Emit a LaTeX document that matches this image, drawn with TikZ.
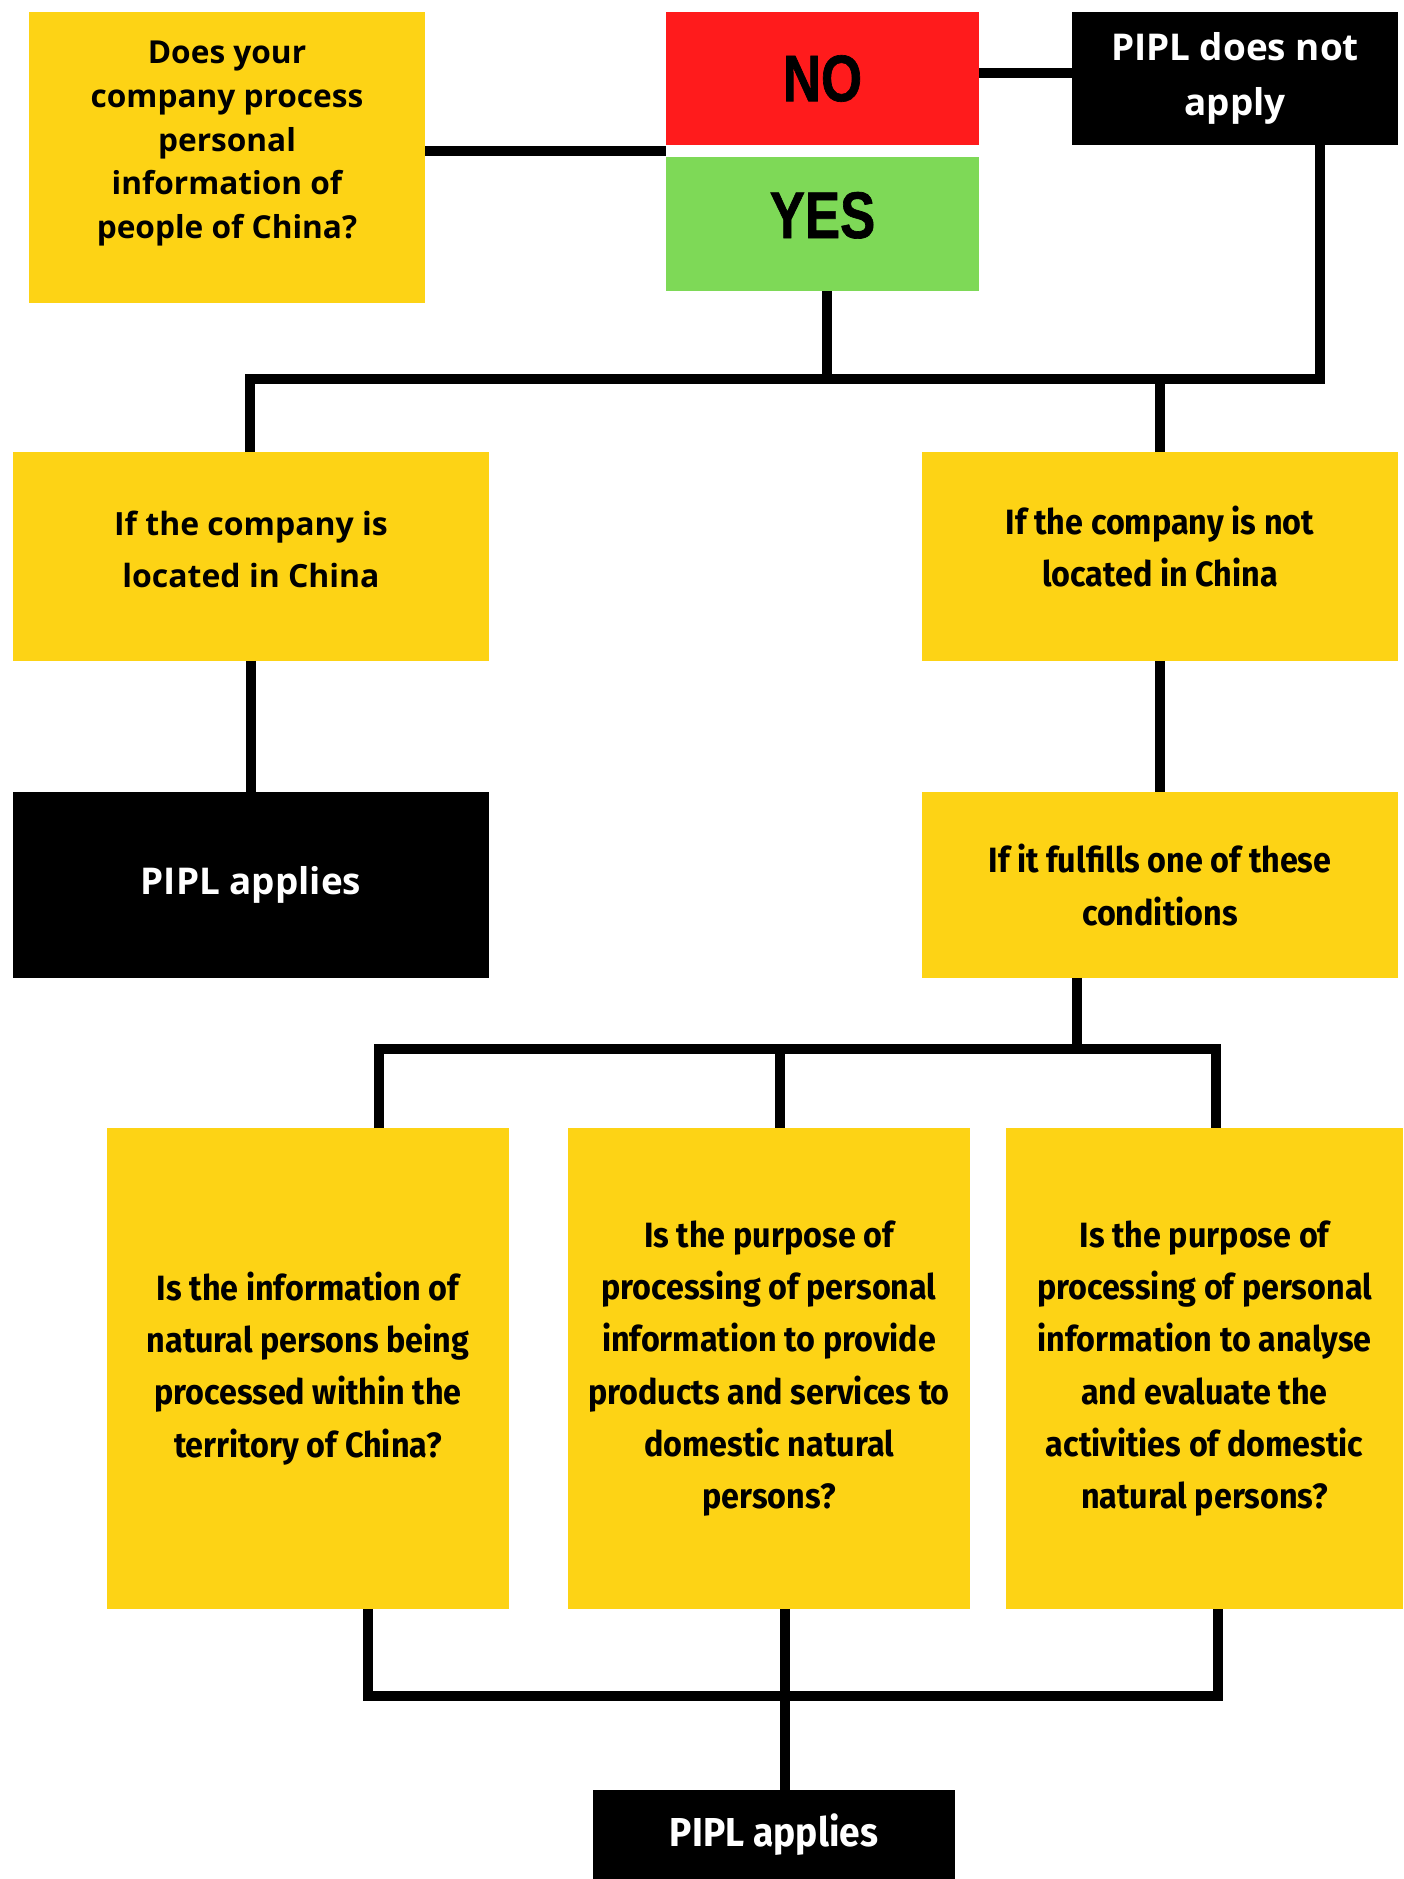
\documentclass[tikz,border=0pt]{standalone}
\usepackage{fontspec}
\setmainfont{Open Sans}
\newfontfamily\condfont[FakeStretch=0.92]{Fira Sans}
\newfontfamily\headfont[FakeStretch=0.8,FakeBold=1]{Liberation Sans}
\definecolor{pyellow}{HTML}{FDD315}
\definecolor{pred}{HTML}{FF1B1C}
\definecolor{pgreen}{HTML}{7ED957}

\begin{document}
\begin{tikzpicture}[x=0.02cm, y=-0.02cm, line width=5.7pt,
    ybox/.style={fill=pyellow, inner sep=0pt, outer sep=0pt, align=center},
    bbox/.style={fill=black, text=white, inner sep=0pt, outer sep=0pt, align=center},
    condtext/.style={font=\condfont\bfseries\fontsize{20}{29.7}\selectfont}]

        \useasboundingbox (0,0) rectangle (1403,1879);

        % Question and answers
        \node[ybox, minimum width=7.92cm, minimum height=5.82cm, text depth=0.71cm,
              font=\bfseries\fontsize{18}{25}\selectfont] (quest) at (227,157.5)
              {Does your\\company process\\personal\\information of\\people of China?};
        \node[fill=pred, inner sep=0pt, outer sep=0pt, minimum width=6.26cm, minimum height=2.66cm,
              font=\headfont\bfseries\fontsize{37.5}{40}\selectfont] (no) at (822.5,78.5) {NO};
        \node[fill=pgreen, inner sep=0pt, outer sep=0pt, minimum width=6.26cm, minimum height=2.68cm,
              text depth=0.36cm, font=\headfont\bfseries\fontsize{37.5}{40}\selectfont] (yes) at (822.5,224) {YES};
        \node[bbox, minimum width=6.52cm, minimum height=2.66cm,
              font=\bfseries\fontsize{21}{31}\selectfont] (notapply) at (1235,78.5)
              {PIPL does not\\apply};

        % Location
        \node[ybox, minimum width=9.52cm, minimum height=4.18cm, text depth=0.3cm,
              font=\bfseries\fontsize{18.2}{29.6}\selectfont] (inchina) at (251,556.5)
              {If the company is\\located in China};
        \node[ybox, condtext, minimum width=9.52cm, minimum height=4.18cm, text depth=0.4cm]
              (notchina) at (1160,556.5) {If the company is not\\located in China};
        \node[bbox, minimum width=9.52cm, minimum height=3.72cm,
              font=\bfseries\fontsize{21}{24}\selectfont] (applya) at (251,885) {PIPL applies};
        \node[ybox, condtext, minimum width=9.52cm, minimum height=3.72cm]
              (fulfill) at (1160,885) {If it fulfills one of these\\conditions};

        % Conditions
        \node[ybox, condtext, minimum width=8.04cm, minimum height=9.62cm] (condone) at (308,1368.5)
              {Is the information of\\natural persons being\\processed within the\\territory of China?};
        \node[ybox, condtext, minimum width=8.04cm, minimum height=9.62cm] (condtwo) at (769,1368.5)
              {Is the purpose of\\processing of personal\\information to provide\\products and services to\\domestic natural\\persons?};
        \node[ybox, condtext, minimum width=7.94cm, minimum height=9.62cm] (condthree) at (1204.5,1368.5)
              {Is the purpose of\\processing of personal\\information to analyse\\and evaluate the\\activities of domestic\\natural persons?};
        \node[bbox, minimum width=7.24cm, minimum height=1.78cm,
              font=\condfont\bfseries\fontsize{23}{24}\selectfont] (applyb) at (774,1834.5) {PIPL applies};

        % Junction points
        \coordinate (qjoin) at (425,151);
        \coordinate (njoin) at (979,73);
        \coordinate (yjoin) at (827,291);
        \coordinate (topl) at (250,379);
        \coordinate (topr) at (1320,379);
        \coordinate (midf) at (1077,1049);
        \coordinate (midl) at (379,1049);
        \coordinate (midm) at (780,1049);
        \coordinate (midr) at (1216,1049);
        \coordinate (lowl) at (368,1696);
        \coordinate (lowm) at (785,1696);
        \coordinate (lowr) at (1218,1696);

        % Connectors
        \draw (qjoin) -- (qjoin -| no.west);
        \draw (njoin) -- (njoin -| notapply.west);
        \draw (yjoin) -- (yjoin |- topl);
        \draw (topl |- inchina.north) -- (topl) -- (topr) -- (topr |- notapply.south);
        \draw (notchina.north) -- (notchina.north |- topl);
        \draw (inchina.south) -- (applya.north);
        \draw (notchina.south) -- (fulfill.north);
        \draw (midf |- fulfill.south) -- (midf);
        \draw (midl |- condone.north) -- (midl) -- (midr) -- (midr |- condthree.north);
        \draw (midm) -- (midm |- condtwo.north);
        \draw (lowl |- condone.south) -- (lowl) -- (lowr) -- (lowr |- condthree.south);
        \draw (lowm |- condtwo.south) -- (lowm |- applyb.north);

    \end{tikzpicture}
\end{document}
